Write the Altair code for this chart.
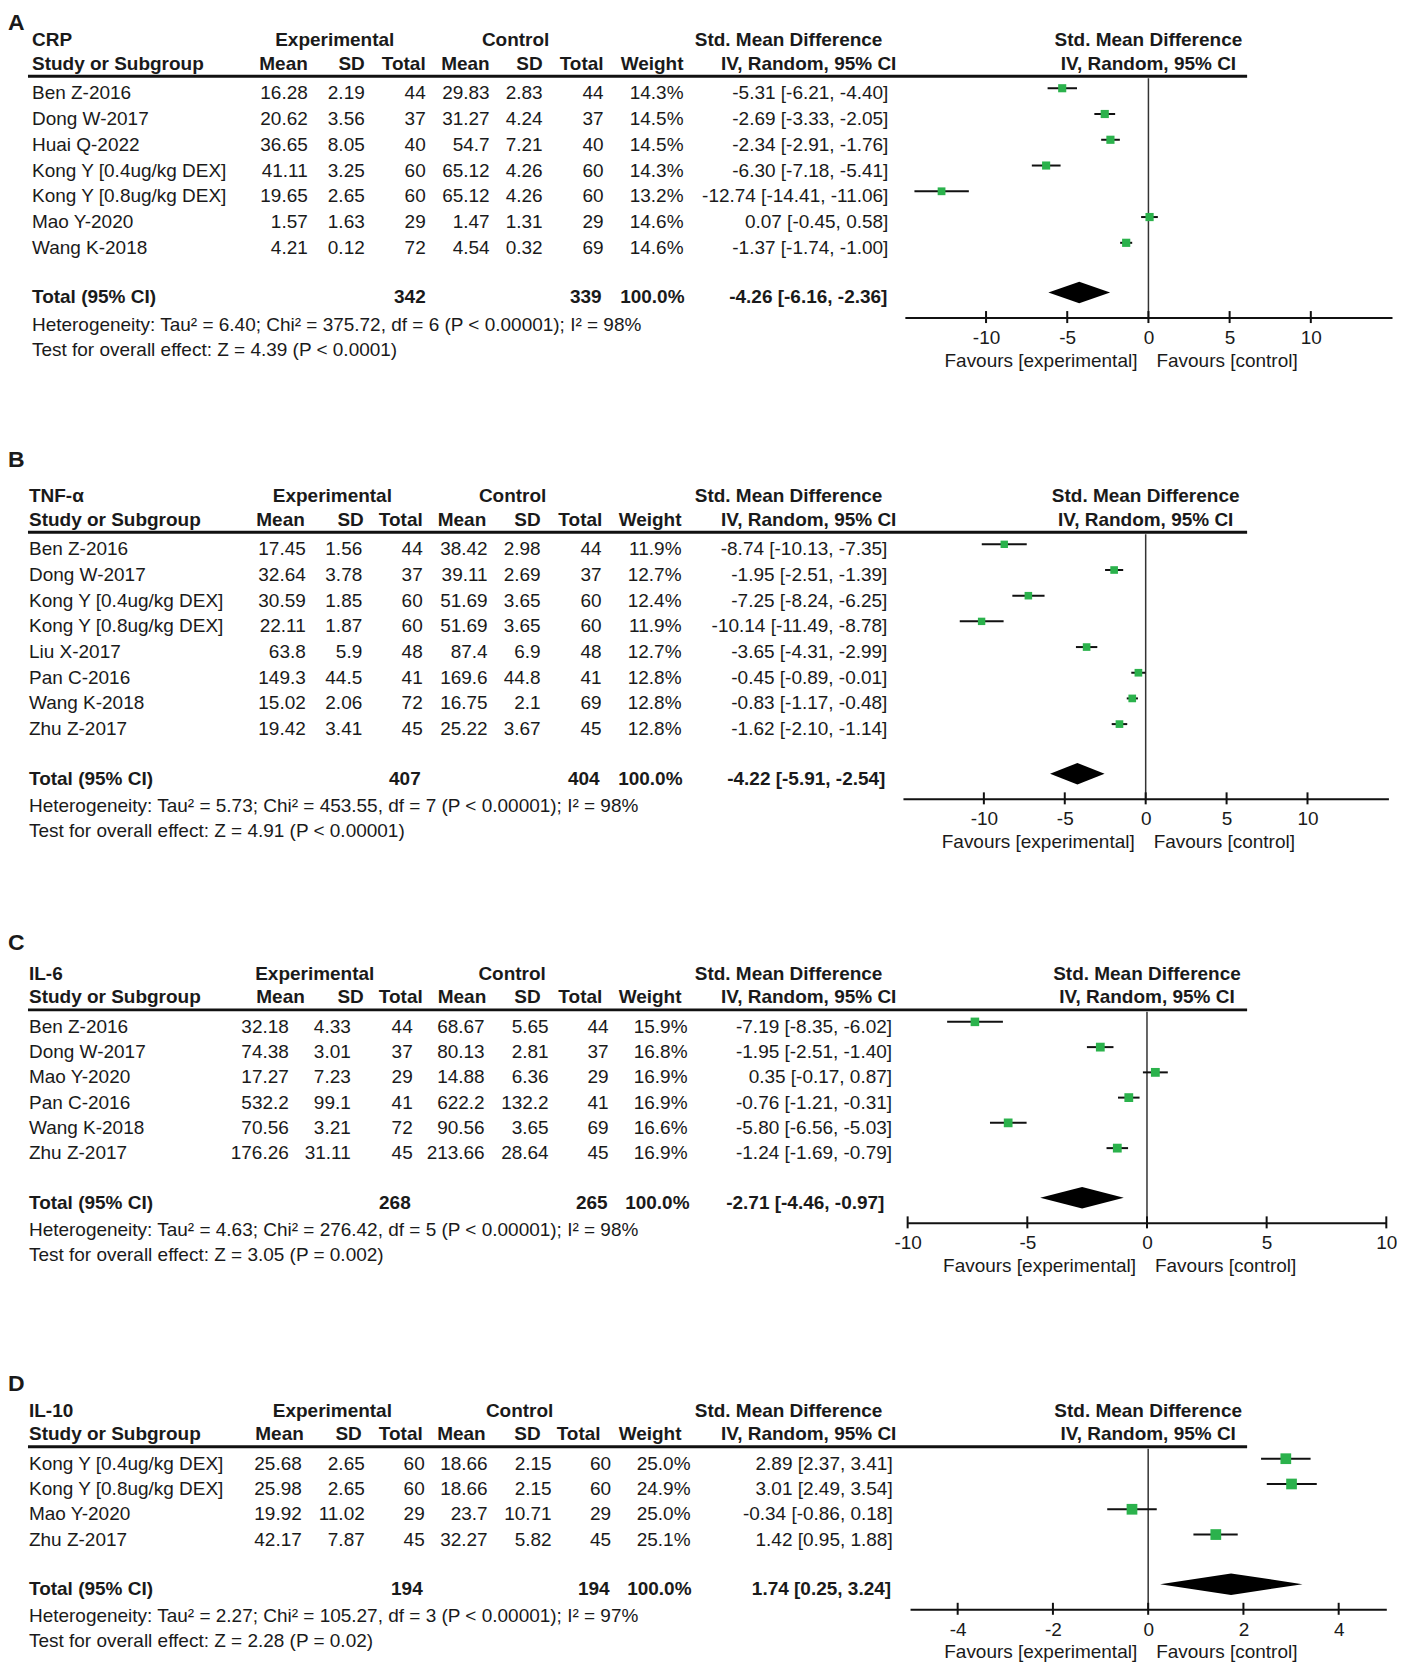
import altair as alt
import pandas as pd

FONT = "Liberation Sans"
INK = "#1a1a1a"
LINE = "#111111"
GREEN = "#2bb24c"
M = 8  # page margin

# ---------------- Panel A : CRP ----------------
A_title = "CRP"
A_study = ["Ben Z-2016", "Dong W-2017", "Huai Q-2022", "Kong Y [0.4ug/kg DEX]",
           "Kong Y [0.8ug/kg DEX]", "Mao Y-2020", "Wang K-2018"]
A_e_mean = ["16.28", "20.62", "36.65", "41.11", "19.65", "1.57", "4.21"]
A_e_sd = ["2.19", "3.56", "8.05", "3.25", "2.65", "1.63", "0.12"]
A_e_n = [44, 37, 40, 60, 60, 29, 72]
A_c_mean = ["29.83", "31.27", "54.7", "65.12", "65.12", "1.47", "4.54"]
A_c_sd = ["2.83", "4.24", "7.21", "4.26", "4.26", "1.31", "0.32"]
A_c_n = [44, 37, 40, 60, 60, 29, 69]
A_weight = [14.3, 14.5, 14.5, 14.3, 13.2, 14.6, 14.6]
A_smd = [-5.31, -2.69, -2.34, -6.30, -12.74, 0.07, -1.37]
A_lo = [-6.21, -3.33, -2.91, -7.18, -14.41, -0.45, -1.74]
A_hi = [-4.40, -2.05, -1.76, -5.41, -11.06, 0.58, -1.00]
A_total = [342, 339, -4.26, -6.16, -2.36]
A_het = "Heterogeneity: Tau² = 6.40; Chi² = 375.72, df = 6 (P < 0.00001); I² = 98%"
A_test = "Test for overall effect: Z = 4.39 (P < 0.0001)"
A_ticks = [-10, -5, 0, 5, 10]
A_domain = [-15, 15]

# ---------------- Panel B : TNF-α ----------------
B_title = "TNF-α"
B_study = ["Ben Z-2016", "Dong W-2017", "Kong Y [0.4ug/kg DEX]", "Kong Y [0.8ug/kg DEX]",
           "Liu X-2017", "Pan C-2016", "Wang K-2018", "Zhu Z-2017"]
B_e_mean = ["17.45", "32.64", "30.59", "22.11", "63.8", "149.3", "15.02", "19.42"]
B_e_sd = ["1.56", "3.78", "1.85", "1.87", "5.9", "44.5", "2.06", "3.41"]
B_e_n = [44, 37, 60, 60, 48, 41, 72, 45]
B_c_mean = ["38.42", "39.11", "51.69", "51.69", "87.4", "169.6", "16.75", "25.22"]
B_c_sd = ["2.98", "2.69", "3.65", "3.65", "6.9", "44.8", "2.1", "3.67"]
B_c_n = [44, 37, 60, 60, 48, 41, 69, 45]
B_weight = [11.9, 12.7, 12.4, 11.9, 12.7, 12.8, 12.8, 12.8]
B_smd = [-8.74, -1.95, -7.25, -10.14, -3.65, -0.45, -0.83, -1.62]
B_lo = [-10.13, -2.51, -8.24, -11.49, -4.31, -0.89, -1.17, -2.10]
B_hi = [-7.35, -1.39, -6.25, -8.78, -2.99, -0.01, -0.48, -1.14]
B_total = [407, 404, -4.22, -5.91, -2.54]
B_het = "Heterogeneity: Tau² = 5.73; Chi² = 453.55, df = 7 (P < 0.00001); I² = 98%"
B_test = "Test for overall effect: Z = 4.91 (P < 0.00001)"
B_ticks = [-10, -5, 0, 5, 10]
B_domain = [-15, 15]

# ---------------- Panel C : IL-6 ----------------
C_title = "IL-6"
C_study = ["Ben Z-2016", "Dong W-2017", "Mao Y-2020", "Pan C-2016", "Wang K-2018", "Zhu Z-2017"]
C_e_mean = ["32.18", "74.38", "17.27", "532.2", "70.56", "176.26"]
C_e_sd = ["4.33", "3.01", "7.23", "99.1", "3.21", "31.11"]
C_e_n = [44, 37, 29, 41, 72, 45]
C_c_mean = ["68.67", "80.13", "14.88", "622.2", "90.56", "213.66"]
C_c_sd = ["5.65", "2.81", "6.36", "132.2", "3.65", "28.64"]
C_c_n = [44, 37, 29, 41, 69, 45]
C_weight = [15.9, 16.8, 16.9, 16.9, 16.6, 16.9]
C_smd = [-7.19, -1.95, 0.35, -0.76, -5.80, -1.24]
C_lo = [-8.35, -2.51, -0.17, -1.21, -6.56, -1.69]
C_hi = [-6.02, -1.40, 0.87, -0.31, -5.03, -0.79]
C_total = [268, 265, -2.71, -4.46, -0.97]
C_het = "Heterogeneity: Tau² = 4.63; Chi² = 276.42, df = 5 (P < 0.00001); I² = 98%"
C_test = "Test for overall effect: Z = 3.05 (P = 0.002)"
C_ticks = [-10, -5, 0, 5, 10]
C_domain = [-10, 10]

# ---------------- Panel D : IL-10 ----------------
D_title = "IL-10"
D_study = ["Kong Y [0.4ug/kg DEX]", "Kong Y [0.8ug/kg DEX]", "Mao Y-2020", "Zhu Z-2017"]
D_e_mean = ["25.68", "25.98", "19.92", "42.17"]
D_e_sd = ["2.65", "2.65", "11.02", "7.87"]
D_e_n = [60, 60, 29, 45]
D_c_mean = ["18.66", "18.66", "23.7", "32.27"]
D_c_sd = ["2.15", "2.15", "10.71", "5.82"]
D_c_n = [60, 60, 29, 45]
D_weight = [25.0, 24.9, 25.0, 25.1]
D_smd = [2.89, 3.01, -0.34, 1.42]
D_lo = [2.37, 2.49, -0.86, 0.95]
D_hi = [3.41, 3.54, 0.18, 1.88]
D_total = [194, 194, 1.74, 0.25, 3.24]
D_het = "Heterogeneity: Tau² = 2.27; Chi² = 105.27, df = 3 (P < 0.00001); I² = 97%"
D_test = "Test for overall effect: Z = 2.28 (P = 0.02)"
D_ticks = [-4, -2, 0, 2, 4]
D_domain = [-5, 5]

HDR2 = ["Mean", "SD", "Total", "Mean", "SD", "Total", "Weight"]

# ---------------- layout (page pixels) ----------------
LAYOUT = {
    "A": dict(first=92.7, s=25.78, letter=-76, left=32, exp_c=335, ctl_c=516,
              hcols=[308, 365, 426, 490, 543, 604, 684],
              vcols=[308, 365, 426, 490, 543, 604, 684, 889],
              tcols=[426, 602, 685, 888], xr=[905.5, 1393]),
    "B": dict(first=548.3, s=25.7, letter=-89.3, left=29, exp_c=332.6, ctl_c=513,
              hcols=[305, 364, 423, 486.6, 541, 602.7, 682],
              vcols=[306, 362.5, 423, 488, 541, 602, 682, 888],
              tcols=[421, 600, 683, 886], xr=[903.6, 1389.4]),
    "C": dict(first=1026, s=25.27, letter=-84, left=29, exp_c=315, ctl_c=512.5,
              hcols=[305, 364, 423, 486.6, 541, 602.7, 682],
              vcols=[289, 351, 413, 485, 549, 609, 688, 892.7],
              tcols=[411, 608, 690, 885], xr=[908.3, 1387.3]),
    "D": dict(first=1462.3, s=25.3, letter=-79.3, left=29, exp_c=332.6, ctl_c=520,
              hcols=[304, 362, 423, 486, 541, 601, 682],
              vcols=[302, 365, 425, 488, 552, 611.6, 691, 893.3],
              tcols=[423, 610, 692, 891.7], xr=[910.7, 1387.3]),
}
H1, H2, HLINE = -53.0, -29.5, -17.0
TOT, HET, TEST = 49.7, 77.0, 102.0
AXIS_OFF = 69.8
MK = -5.0
SPACING = 120
PANEL_W = 1386
SMD_HDR_R, IV_HDR_R = 883, 897
RULE_X = [28, 1248]

PANELS = [
    ("A", A_title, A_study, A_e_mean, A_e_sd, A_e_n, A_c_mean, A_c_sd, A_c_n, A_weight,
     A_smd, A_lo, A_hi, A_total, A_het, A_test, A_ticks, A_domain),
    ("B", B_title, B_study, B_e_mean, B_e_sd, B_e_n, B_c_mean, B_c_sd, B_c_n, B_weight,
     B_smd, B_lo, B_hi, B_total, B_het, B_test, B_ticks, B_domain),
    ("C", C_title, C_study, C_e_mean, C_e_sd, C_e_n, C_c_mean, C_c_sd, C_c_n, C_weight,
     C_smd, C_lo, C_hi, C_total, C_het, C_test, C_ticks, C_domain),
    ("D", D_title, D_study, D_e_mean, D_e_sd, D_e_n, D_c_mean, D_c_sd, D_c_n, D_weight,
     D_smd, D_lo, D_hi, D_total, D_het, D_test, D_ticks, D_domain),
]

DUMMY = pd.DataFrame({"d": [0]})


def ci_str(v, l, h):
    return f"{v:.2f} [{l:.2f}, {h:.2f}]"


def build_panel(spec, top):
    (letter, title, study, e_mean, e_sd, e_n, c_mean, c_sd, c_n, weight,
     smd, lo, hi, total, het, test, ticks, domain) = spec
    L = LAYOUT[letter]
    n = len(study)
    s = L["s"]
    first = L["first"]
    axis_y = first + (n - 1) * s + AXIS_OFF
    H = axis_y - top
    k_top = -(first - top) / s
    k_axis = (axis_y - first) / s

    def r(px):
        return px / s

    ysc = alt.Scale(domain=[k_top, k_axis], reverse=True, zero=False, nice=False)
    xsc = alt.Scale(domain=domain, range=[L["xr"][0] - M, L["xr"][1] - M], zero=False, nice=False)
    xax = alt.Axis(values=ticks, ticks=False, grid=False, domainColor=LINE, domainWidth=2,
                   labelFont=FONT, labelFontSize=19, labelColor=INK, labelPadding=11,
                   labelFlush=False, labelOverlap=False, title=None,
                   labelExpr="'' + datum.value")
    last = n - 1
    k_h1, k_h2 = r(H1), r(H2)
    k_tot, k_het, k_test = last + r(TOT), last + r(HET), last + r(TEST)
    k_letter = max(r(L["letter"]), k_top + r(14))

    items = []  # (x_page, align, bold, size, row, text)
    items.append((M, "left", True, 23, k_letter, letter))
    left = L["left"]
    items.append((left, "left", True, 19, k_h1, title))
    items.append((left, "left", True, 19, k_h2, "Study or Subgroup"))
    items.append((L["exp_c"], "center", True, 19, k_h1, "Experimental"))
    items.append((L["ctl_c"], "center", True, 19, k_h1, "Control"))
    items.append((SMD_HDR_R, "right", True, 19, k_h1, "Std. Mean Difference"))
    items.append((IV_HDR_R, "right", True, 19, k_h2, "IV, Random, 95% CI"))
    for name, x in zip(HDR2, L["hcols"]):
        items.append((x, "right", True, 19, k_h2, name))
    xc = (L["xr"][0] + L["xr"][1]) / 2
    items.append((xc, "center", True, 19, k_h1, "Std. Mean Difference"))
    items.append((xc, "center", True, 19, k_h2, "IV, Random, 95% CI"))
    cols = [e_mean, e_sd, [str(v) for v in e_n], c_mean, c_sd, [str(v) for v in c_n],
            [f"{w:.1f}%" for w in weight],
            [ci_str(v, a, b) for v, a, b in zip(smd, lo, hi)]]
    for i in range(n):
        items.append((left, "left", False, 19, i, study[i]))
        for j, col in enumerate(cols):
            items.append((L["vcols"][j], "right", False, 19, i, col[i]))
    items.append((left, "left", True, 19, k_tot, "Total (95% CI)"))
    items.append((L["tcols"][0], "right", True, 19, k_tot, str(total[0])))
    items.append((L["tcols"][1], "right", True, 19, k_tot, str(total[1])))
    items.append((L["tcols"][2], "right", True, 19, k_tot, "100.0%"))
    items.append((L["tcols"][3], "right", True, 19, k_tot, ci_str(total[2], total[3], total[4])))
    items.append((left, "left", False, 19, k_het, het))
    items.append((left, "left", False, 19, k_test, test))

    groups = {}
    for x, al, b, sz, row, txt in items:
        groups.setdefault((x, al, b, sz), []).append((row, txt))

    layers = []
    for (x, al, b, sz), rows in groups.items():
        df = pd.DataFrame(rows, columns=["row", "txt"])
        layers.append(
            alt.Chart(df).mark_text(align=al, baseline="middle", font=FONT, fontSize=sz,
                                    fontWeight="bold" if b else "normal", color=INK)
            .encode(x=alt.value(x - M), y=alt.Y("row:Q", scale=ysc, axis=None), text="txt:N")
        )

    # header rule
    layers.append(
        alt.Chart(DUMMY).mark_rule(color=LINE, strokeWidth=3)
        .encode(x=alt.value(RULE_X[0] - M), x2=alt.value(RULE_X[1] - M),
                y=alt.Y(datum=r(HLINE), scale=ysc, axis=None))
    )

    # zero line
    layers.append(
        alt.Chart(DUMMY).mark_rule(color="#333333", strokeWidth=1.5)
        .encode(x=alt.X(datum=0, scale=xsc, axis=xax),
                y=alt.Y(datum=r(HLINE + 2), scale=ysc, axis=None),
                y2=alt.datum(k_axis))
    )

    # ticks crossing the axis line
    tdf = pd.DataFrame({"t": ticks})
    layers.append(
        alt.Chart(tdf).mark_rule(color=LINE, strokeWidth=2)
        .encode(x=alt.X("t:Q", scale=xsc, axis=xax),
                y=alt.Y(datum=k_axis - r(6.5), scale=ysc, axis=None),
                y2=alt.datum(k_axis + r(5.5)))
    )

    # study CIs and squares
    fd = pd.DataFrame({"smd": smd, "lo": lo, "hi": hi, "weight": weight,
                       "ym": [i + r(MK) for i in range(n)]})
    layers.append(
        alt.Chart(fd).mark_rule(color=LINE, strokeWidth=2)
        .encode(x=alt.X("lo:Q", scale=xsc, axis=xax), x2="hi:Q",
                y=alt.Y("ym:Q", scale=ysc, axis=None))
    )
    layers.append(
        alt.Chart(fd).mark_square(color=GREEN, opacity=1, strokeWidth=0)
        .encode(x=alt.X("smd:Q", scale=xsc, axis=xax),
                y=alt.Y("ym:Q", scale=ysc, axis=None),
                size=alt.Size("weight:Q", scale=alt.Scale(domain=[0, 100], range=[0, 460]),
                              legend=None))
    )

    # pooled diamond
    kt = k_tot + r(MK)
    h = r(10.8)
    dd = pd.DataFrame({"dx": [total[3], total[2], total[4]],
                       "dy1": [kt, kt - h, kt], "dy2": [kt, kt + h, kt]})
    layers.append(
        alt.Chart(dd).mark_area(color="black", orient="vertical", interpolate="linear")
        .encode(x=alt.X("dx:Q", scale=xsc, axis=xax),
                y=alt.Y("dy1:Q", scale=ysc, axis=None), y2="dy2:Q")
    )

    # favours labels
    kf = k_axis + r(43)
    layers.append(
        alt.Chart(DUMMY).mark_text(text="Favours [experimental]", align="right", dx=-11,
                                   baseline="middle", font=FONT, fontSize=19, color=INK)
        .encode(x=alt.X(datum=0, scale=xsc, axis=xax), y=alt.Y(datum=kf, scale=ysc, axis=None))
    )
    layers.append(
        alt.Chart(DUMMY).mark_text(text="Favours [control]", align="left", dx=8,
                                   baseline="middle", font=FONT, fontSize=19, color=INK)
        .encode(x=alt.X(datum=0, scale=xsc, axis=xax), y=alt.Y(datum=kf, scale=ysc, axis=None))
    )

    chart = alt.layer(*layers).properties(width=PANEL_W, height=H)
    return chart, axis_y


charts = []
top = M
for spec in PANELS:
    c, axis_y = build_panel(spec, top)
    charts.append(c)
    top = axis_y + SPACING

chart = (
    alt.vconcat(*charts, spacing=SPACING, bounds="flush")
    .resolve_scale(x="independent", y="independent")
    .properties(padding=0)
    .configure(font=FONT)
    .configure_view(stroke=None)
)

chart.save("out.html", embed_options={"renderer": "svg", "actions": False})
